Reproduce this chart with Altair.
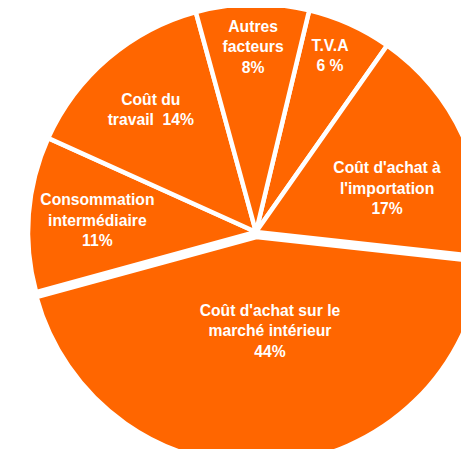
import math
import altair as alt
import pandas as pd

# Data
categories = ["T.V.A", "Coût d'achat à l'importation", "Coût d'achat sur le marché intérieur",
              "Consommation intermédiaire", "Coût du travail", "Autres facteurs"]
values = [6, 17, 44, 11, 14, 8]
labels = ["T.V.A\n6 %", "Coût d'achat à\nl'importation\n17%", "Coût d'achat sur le\nmarché intérieur\n44%",
          "Consommation\nintermédiaire\n11%", "Coût du\ntravail\u00a0 14%", "Autres\nfacteurs\n8%"]

# Layout (label distance from pie centre, label angle shift in degrees, slice explosion in px)
label_radius = [191, 138, 95, 159, 161, 185]
label_shift = [-1.5, 6.1, -3.7, -0.5, -0.3, 0.0]
explode = [0, 0, 5, 0, 0, 0]

df = pd.DataFrame({
    "category": categories,
    "value": values,
    "label": labels,
    "idx": list(range(len(categories))),
    "lr": label_radius,
    "ls": label_shift,
    "ex": explode,
})

start = math.radians(13.5)
cx, cy = 248, 224
R = 228
LH = 20.5

base = alt.Chart(df).transform_window(
    cum="sum(value)", sort=[alt.SortField("idx", order="ascending")]
).transform_joinaggregate(
    total="sum(value)"
).transform_calculate(
    a0=f"{start} + 2*PI*(datum.cum - datum.value)/datum.total",
    a1=f"{start} + 2*PI*datum.cum/datum.total",
    ang=f"{start} + 2*PI*(datum.cum - datum.value/2)/datum.total",
    nl="length(split(datum.label, '\\n'))",
).transform_calculate(
    la="datum.ang + datum.ls*PI/180",
    ax=f"{cx} + datum.ex*sin(datum.ang)",
    ay=f"{cy} - datum.ex*cos(datum.ang)",
).transform_calculate(
    px="datum.ax + datum.lr*sin(datum.la)",
    py=f"datum.ay - datum.lr*cos(datum.la) - (datum.nl - 1)*{LH}/2",
)

arcs = base.mark_arc(radius=R, fill="#FF6600", stroke="white", strokeWidth=4.5).encode(
    theta=alt.Theta("a0:Q", scale=None),
    theta2="a1:Q",
    x=alt.X("ax:Q", scale=None),
    y=alt.Y("ay:Q", scale=None),
)

text = base.mark_text(
    font="Liberation Sans", fontSize=15.7, fontWeight="bold", color="white",
    lineBreak="\n", lineHeight=LH, align="center", baseline="middle",
).encode(
    text="label:N",
    x=alt.X("px:Q", scale=None),
    y=alt.Y("py:Q", scale=None),
)

chart = (arcs + text).properties(
    width=453, height=441, padding=0, autosize=alt.AutoSizeParams(type="none")
).configure_view(stroke=None)

chart.save("out.html", embed_options={"renderer": "svg", "actions": False})
